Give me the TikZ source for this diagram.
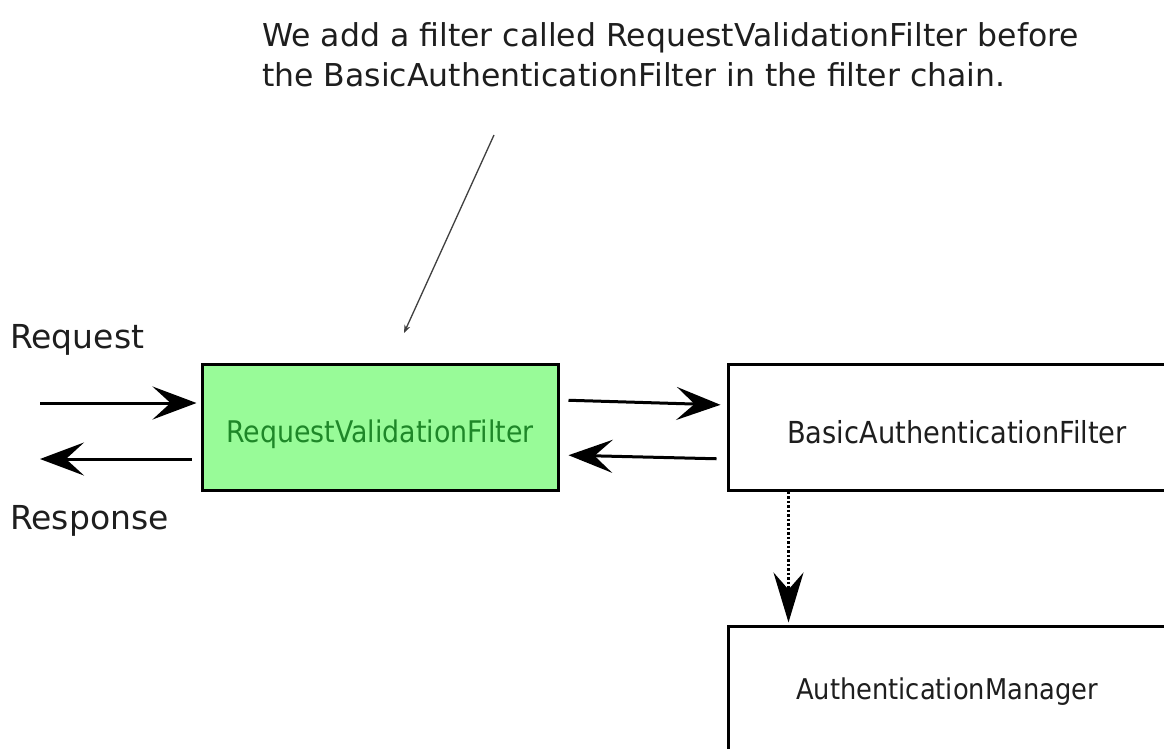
\documentclass[tikz,border=0pt]{standalone}
\usepackage{fontspec}
\setmainfont{DejaVu Sans}
\newfontfamily\condfont{DejaVu Sans Condensed}
\usetikzlibrary{arrows.meta,calc}
\definecolor{boxgreen}{RGB}{152,251,152}
\definecolor{textgreen}{RGB}{30,135,40}
\definecolor{titlegray}{RGB}{30,30,30}
\newcommand{\lowerby}[2]{\raisebox{-#1}[\height][\depth]{#2}}
\begin{document}
\begin{tikzpicture}[x=1pt,y=-1pt,
  box/.style={draw=black, line width=3pt, rectangle, inner sep=0pt},
  greenbox/.style={box, fill=boxgreen, text=textgreen, font=\condfont\fontsize{29.8}{32}\selectfont},
  whitebox/.style={box, fill=white, text=titlegray, font=\condfont\fontsize{30.3}{32}\selectfont},
  bigarrow/.style={line width=3pt, -{Stealth[length=44pt,width=33pt,inset=18pt]}},
  dotarrow/.style={line width=2.5pt, dotted, -{Stealth[length=50pt,width=30pt,inset=17pt]}},
  pointer/.style={line width=1.3pt, draw=black!75, -{Stealth[length=8pt,width=6pt]}},
  lbl/.style={font=\fontsize{33}{36}\selectfont, text=titlegray, inner sep=0pt}
]
\clip (0,0) rectangle (1164,749);
\fill[white] (0,0) rectangle (1164,749);

% title
\node[anchor=base west, align=left, inner sep=0pt, text=titlegray,
      font=\fontsize{31.5}{40}\selectfont] (title) at (262,87)
  {We add a filter called RequestValidationFilter before\\the BasicAuthenticationFilter in the filter chain.};

% boxes
\node[greenbox, minimum width=356pt, minimum height=126pt] (rvf) at (380,427) {\lowerby{7pt}{RequestValidationFilter}};
\node[whitebox, minimum width=458pt, minimum height=126pt] (basic) at (957,427) {\lowerby{5pt}{BasicAuthenticationFilter}};
\node[whitebox, minimum width=438pt, minimum height=128pt, font=\condfont\fontsize{28.6}{32}\selectfont] (manager) at (947,690) {\lowerby{2pt}{AuthenticationManager}};

% labels
\node[lbl, anchor=west] (request) at (10,340) {Request};
\node[lbl, anchor=west] (response) at (10,521) {Response};

% free ends
\coordinate (reqin) at (40,403);
\coordinate (respout) at (40,459);
\coordinate (ptop) at (494,135);
\coordinate (ptip) at (404,333);

% connectors
\draw[bigarrow, shorten >=4pt] (reqin) -- ([yshift=24pt]rvf.west);
\draw[bigarrow, shorten <=9pt] ([yshift=-32pt]rvf.west) -- (respout);
\draw[bigarrow, shorten <=9pt, shorten >=6pt] ([yshift=27pt]rvf.east) -- ([yshift=22pt]basic.west);
\draw[bigarrow, shorten <=10pt, shorten >=9pt] ([yshift=-32pt]basic.west) -- ([yshift=-28pt]rvf.east);
\draw[dotarrow, shorten >=2pt] ([xshift=62pt]basic.south west) -- ([xshift=62pt]manager.north west);
\draw[pointer] (ptop) -- (ptip);
\end{tikzpicture}
\end{document}
